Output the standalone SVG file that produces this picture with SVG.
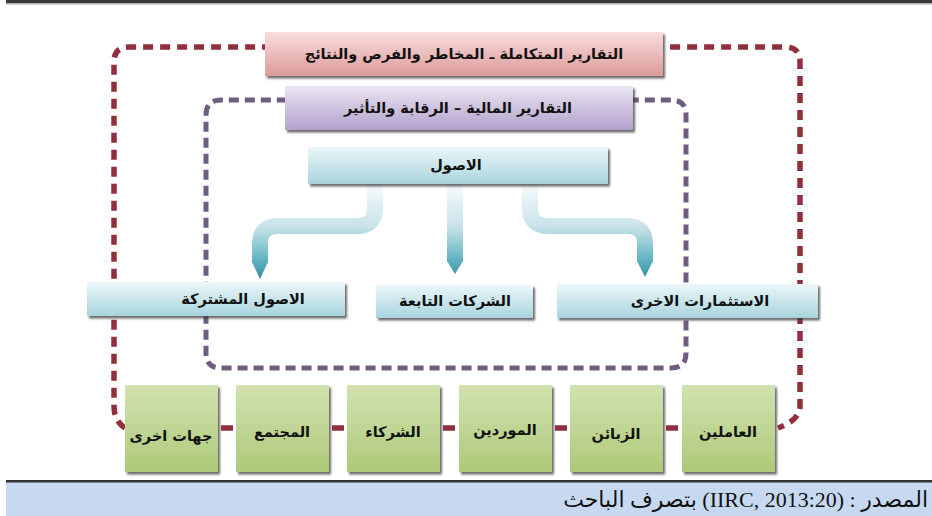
<svg xmlns="http://www.w3.org/2000/svg" width="932" height="516" viewBox="0 0 932 516">
<style>
.lbl{font-family:"DejaVu Sans",sans-serif;font-weight:bold;font-size:14.5px;fill:#111;text-anchor:middle}
.red{fill:none;stroke:#922f3c;stroke-width:5.5;stroke-dasharray:10 7}
.pur{fill:none;stroke:#6e5d80;stroke-width:5;stroke-dasharray:10 6}
.seg{stroke:#922f3c;stroke-width:5.5}
.conn{fill:none;stroke:url(#cg);stroke-width:16}
.gbox{fill:url(#gg);filter:url(#sh)}
.cbox{fill:url(#bg);filter:url(#sh)}
</style>
<defs>
<linearGradient id="gg" x1="0" y1="0" x2="0" y2="1"><stop offset="0" stop-color="#d2e2b0"/><stop offset="1" stop-color="#aec979"/></linearGradient>
<linearGradient id="bg" x1="0" y1="0" x2="0" y2="1"><stop offset="0" stop-color="#ecf7f9"/><stop offset="1" stop-color="#a8d4de"/></linearGradient>
<linearGradient id="rg" x1="0" y1="0" x2="0" y2="1"><stop offset="0" stop-color="#f9dede"/><stop offset="1" stop-color="#dc9a9a"/></linearGradient>
<linearGradient id="pg" x1="0" y1="0" x2="0" y2="1"><stop offset="0" stop-color="#ebe5f3"/><stop offset="1" stop-color="#b2a2cb"/></linearGradient>
<linearGradient id="cg" gradientUnits="userSpaceOnUse" x1="0" y1="185" x2="0" y2="280"><stop offset="0" stop-color="#f6fbfc"/><stop offset="0.45" stop-color="#c7e2e8"/><stop offset="0.75" stop-color="#6cb8c6"/><stop offset="1" stop-color="#2b8ea2"/></linearGradient>
<filter id="sh" x="-5%" y="-10%" width="115%" height="130%"><feDropShadow dx="2" dy="2.5" stdDeviation="0.8" flood-color="#3a3a3a" flood-opacity="0.75"/></filter>
</defs>
<rect x="6" y="0" width="926" height="3" fill="#3a3a3a"/>
<rect x="6" y="3" width="926" height="1.5" fill="#b0b0b0"/>
<rect x="6" y="482" width="926" height="34" fill="#c6d9f1"/>
<rect x="6" y="480" width="926" height="2.5" fill="#333"/>
<g id="connectors">
<path class="red" d="M125,428 Q114,421 114,406 V62 Q114,47 129,47 H785 Q800,47 800,62 V406 Q800,420 778,428"/>
<path class="pur" d="M206,115 Q206,100 221,100 H671 Q686,100 686,115 V353 Q686,368 671,368 H221 Q206,368 206,353 Z"/>
<line class="seg" x1="221" y1="428" x2="233" y2="428"/>
<line class="seg" x1="332" y1="428" x2="344" y2="428"/>
<line class="seg" x1="443" y1="428" x2="455" y2="428"/>
<line class="seg" x1="555" y1="428" x2="567" y2="428"/>
<line class="seg" x1="666" y1="428" x2="678" y2="428"/>
<path class="conn" d="M375,184 V208 Q375,226 357,226 H278 Q260,226 260,244 V263"/>
<polygon points="252,262 268,262 260,279" fill="url(#cg)"/>
<path class="conn" d="M455,184 V262"/>
<polygon points="447,261 463,261 455,274" fill="url(#cg)"/>
<path class="conn" d="M530,184 V208 Q530,226 548,226 H627 Q645,226 645,244 V262"/>
<polygon points="637,261 653,261 645,277" fill="url(#cg)"/>
</g>
<g id="n-integrated"><rect x="265" y="32" width="398" height="44" fill="url(#rg)" filter="url(#sh)"/><text class="lbl" x="464" y="59">التقارير المتكاملة ـ المخاطر والفرص والنتائج</text></g>
<g id="n-financial"><rect x="285" y="86" width="348" height="44" fill="url(#pg)" filter="url(#sh)"/><text class="lbl" x="458" y="113">التقارير المالية – الرقابة والتأثير</text></g>
<g id="n-assets"><rect class="cbox" x="308" y="147" width="300" height="37"/><text class="lbl" x="456" y="170">الاصول</text></g>
<g id="n-joint"><rect class="cbox" x="87" y="282" width="258" height="34"/><text class="lbl" x="243" y="304">الاصول المشتركة</text></g>
<g id="n-subs"><rect class="cbox" x="376" y="285" width="157" height="33"/><text class="lbl" x="455" y="306">الشركات التابعة</text></g>
<g id="n-other"><rect class="cbox" x="557" y="284" width="261" height="34"/><text class="lbl" x="700" y="306">الاستثمارات الاخرى</text></g>
<g id="n-others"><rect class="gbox" x="125" y="385" width="93" height="87"/><text class="lbl" x="171" y="441">جهات اخرى</text></g>
<g id="n-community"><rect class="gbox" x="236" y="385" width="93" height="87"/><text class="lbl" x="282" y="437">المجتمع</text></g>
<g id="n-partners"><rect class="gbox" x="347" y="385" width="93" height="87"/><text class="lbl" x="393" y="437">الشركاء</text></g>
<g id="n-suppliers"><rect class="gbox" x="459" y="385" width="93" height="87"/><text class="lbl" x="505" y="435">الموردين</text></g>
<g id="n-customers"><rect class="gbox" x="570" y="385" width="93" height="87"/><text class="lbl" x="616" y="439">الزبائن</text></g>
<g id="n-employees"><rect class="gbox" x="682" y="385" width="93" height="87"/><text class="lbl" x="728" y="437">العاملين</text></g>
<text x="928" y="507" direction="rtl" text-anchor="start" font-family="Liberation Serif, DejaVu Sans, serif" font-size="22" fill="#111">المصدر : (IIRC, 2013:20) بتصرف الباحث</text>
</svg>
